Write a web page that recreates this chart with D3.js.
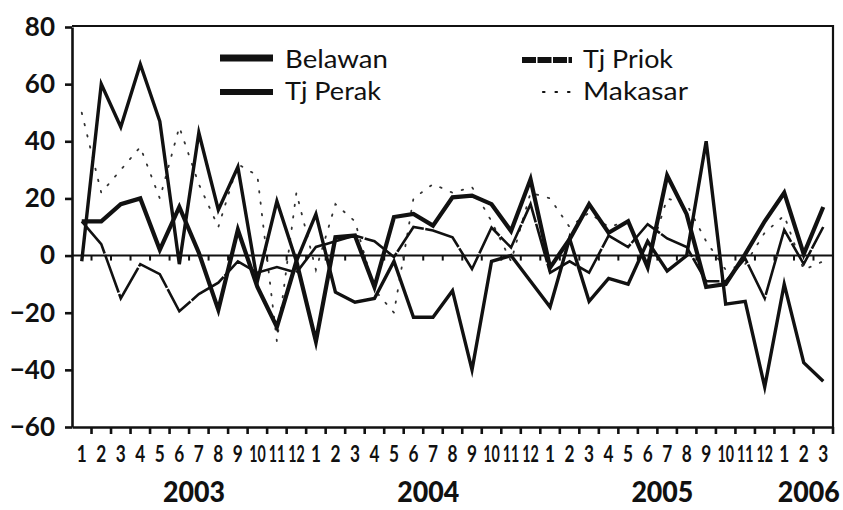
<!DOCTYPE html>
<html><head><meta charset="utf-8">
<script src="https://cdn.jsdelivr.net/npm/d3@7"></script>
<style>body{margin:0;background:#fff}svg{display:block}</style>
</head><body><svg id="c" width="843" height="510"></svg>
<script>
const years = ["2003", "2004", "2005", "2006"];
const monthLabels = [
  "1","2","3","4","5","6","7","8","9","10","11","12",
  "1","2","3","4","5","6","7","8","9","10","11","12",
  "1","2","3","4","5","6","7","8","9","10","11","12",
  "1","2","3"];
const yearOfPoint = monthLabels.map((m, i) => years[Math.floor(i / 12)]);
const yTicks = [-60, -40, -20, 0, 20, 40, 60, 80];

const belawan  = [12,12,18,20,2,17,1,-19,9,-11,-25,-2,-30,6.4,7,-11,13.5,14.6,10.5,20.4,21,18,8.6,26.7,-4.2,5.7,18,8,12,-4,28,14.5,-11,-10,0.5,12,22,0.5,17];
const tjPerak  = [-2,60,45,67,47,-3,43,16,31,-9,19,-2,14.5,-12.8,-16.3,-15,-2,-21.6,-21.6,-12.3,-40,-2,0,-9,-18,6,-16,-8,-10,5,-5.4,0,40,-17,-16,-46,-10,-37.5,-44];
const tjPriok  = [12,4,-15,-3,-6.5,-19.5,-13.5,-9.5,-2,-6,-4,-6,3,5,7,5,-0.5,10,8.8,6.4,-4.7,9.8,2.8,18,-6,-2,-6,7,3,11,6,3,-9,-9,-1,-15,9,-3,10];
const makasar  = [50,22,30,38,20,45,25,10,32,28,-30,22,-5,18,12,-12,-20,20,25,22,24,12,-2,22,20,10,15,10,12,-2,20,18,5,-5,-3,8,14,-5,-2];

const seriesNames = ["Belawan", "Tj Perak", "Tj Priok", "Makasar"];
const seriesValues = [belawan, tjPerak, tjPriok, makasar];

// styles (kept apart from data)
const styles = {
  "Belawan":  {w: 4.2, dash: null,       legendDash: null,     legendW: 7, lx1: 220, lx2: 273, ly: 58, tx: 285, ty: 68,  tl: 103},
  "Tj Perak": {w: 3.4, dash: null,       legendDash: null,     legendW: 6, lx1: 220, lx2: 273, ly: 92, tx: 285, ty: 100, tl: 96},
  "Tj Priok": {w: 2.6, dash: "40,1.5",   legendDash: "14,1.5", legendW: 6, lx1: 522, lx2: 572, ly: 60, tx: 583, ty: 68,  tl: 90},
  "Makasar":  {w: 1.8, dash: "1.5,10",   legendDash: "1.5,11", legendW: 2.2, lx1: 543, lx2: 571, ly: 92, tx: 583, ty: 100, tl: 105}
};

const svg = d3.select("#c");
const L = 72, R = 833, T = 27, B = 427;
const ids = monthLabels.map((m, i) => i);
const x = d3.scaleBand().domain(ids).range([L, R]).paddingInner(0).paddingOuter(0);
const y = d3.scaleLinear().domain([-60, 80]).range([B, T]);
const cx = i => x(i) + x.bandwidth() / 2;

// frame (top & right)
svg.append("path").attr("d", `M${L},${T - 1}H${R}V${B}`).attr("fill", "none")
  .attr("stroke", "#111").attr("stroke-width", 2.2);

// zero line with small ticks
svg.append("line").attr("x1", L).attr("x2", R).attr("y1", y(0)).attr("y2", y(0))
  .attr("stroke", "#111").attr("stroke-width", 2);
svg.append("g").selectAll("line").data(ids.slice(1)).join("line")
  .attr("x1", d => x(d)).attr("x2", d => x(d))
  .attr("y1", y(0)).attr("y2", y(0) + 5)
  .attr("stroke", "#111").attr("stroke-width", 2);

// series lines
const line = d3.line().x((d, i) => cx(i)).y(d => y(d)).curve(d3.curveLinear);
const drawOrder = ["Makasar", "Tj Priok", "Tj Perak", "Belawan"];
drawOrder.forEach(name => {
  const vals = seriesValues[seriesNames.indexOf(name)];
  const st = styles[name];
  const p = svg.append("path").datum(vals).attr("d", line)
    .attr("fill", "none").attr("stroke", name === "Makasar" ? "#333" : "#111")
    .attr("stroke-width", st.w).attr("stroke-linejoin", "miter").attr("stroke-miterlimit", 6);
  if (st.dash) p.attr("stroke-dasharray", st.dash);
  if (name === "Makasar") p.attr("stroke-linecap", "round");
});

// y axis
const yAxis = d3.axisLeft(y).tickValues(yTicks).tickSize(7).tickPadding(10).tickSizeOuter(0);
const gy = svg.append("g").attr("transform", `translate(${L},0)`).call(yAxis);
gy.select(".domain").attr("stroke", "#111").attr("stroke-width", 2.6);
gy.selectAll(".tick line").attr("stroke", "#111").attr("stroke-width", 2.6);
gy.selectAll(".tick text").attr("font-family", "Lato, 'Open Sans', sans-serif")
  .attr("font-size", 26).attr("font-weight", 700).attr("fill", "#111");

// x axis bottom
const xAxis = d3.axisBottom(x).tickFormat(i => monthLabels[i]).tickSize(0).tickPadding(19).tickSizeOuter(0);
const gx = svg.append("g").attr("transform", `translate(0,${B})`).call(xAxis);
gx.select(".domain").attr("stroke", "#111").attr("stroke-width", 2.6);
gx.selectAll(".tick text").attr("font-family", "Lato, 'Open Sans', sans-serif")
  .attr("font-size", 23).attr("font-weight", 700).attr("fill", "#111")
  .each(function(i) {
    const w = this.getComputedTextLength();
    const target = monthLabels[i].length > 1 ? 16.5 : 10;
    d3.select(this).attr("transform", `scale(${Math.min(1, target / w)},1)`);
  });
svg.append("g").selectAll("line").data(ids.slice(1).concat([ids.length])).join("line")
  .attr("x1", d => d < ids.length ? x(d) : R).attr("x2", d => d < ids.length ? x(d) : R)
  .attr("y1", B).attr("y2", B + 7)
  .attr("stroke", "#111").attr("stroke-width", 2.6);

// year labels
const yearGroups = d3.groups(ids, i => yearOfPoint[i]);
svg.append("g").selectAll("text").data(yearGroups).join("text")
  .attr("x", d => (cx(d[1][0]) + cx(d[1][d[1].length - 1])) / 2 + 5)
  .attr("y", 502)
  .attr("text-anchor", "middle")
  .attr("font-family", "Lato, 'Open Sans', sans-serif")
  .attr("font-size", 28).attr("font-weight", 900).attr("fill", "#111")
  .attr("textLength", 62).attr("lengthAdjust", "spacingAndGlyphs")
  .text(d => d[0]);

// legend
const lg = svg.append("g");
seriesNames.forEach(name => {
  const st = styles[name];
  const ln = lg.append("line").attr("x1", st.lx1).attr("x2", st.lx2)
    .attr("y1", st.ly).attr("y2", st.ly)
    .attr("stroke", "#111").attr("stroke-width", st.legendW);
  if (st.legendDash) ln.attr("stroke-dasharray", st.legendDash);
  if (name === "Makasar") ln.attr("stroke-linecap", "round");
  lg.append("text").attr("x", st.tx).attr("y", st.ty)
    .attr("font-family", "Lato, 'Open Sans', sans-serif").attr("font-size", 25)
    .attr("fill", "#111").attr("textLength", st.tl).attr("lengthAdjust", "spacingAndGlyphs")
    .text(name);
});
</script></body></html>
